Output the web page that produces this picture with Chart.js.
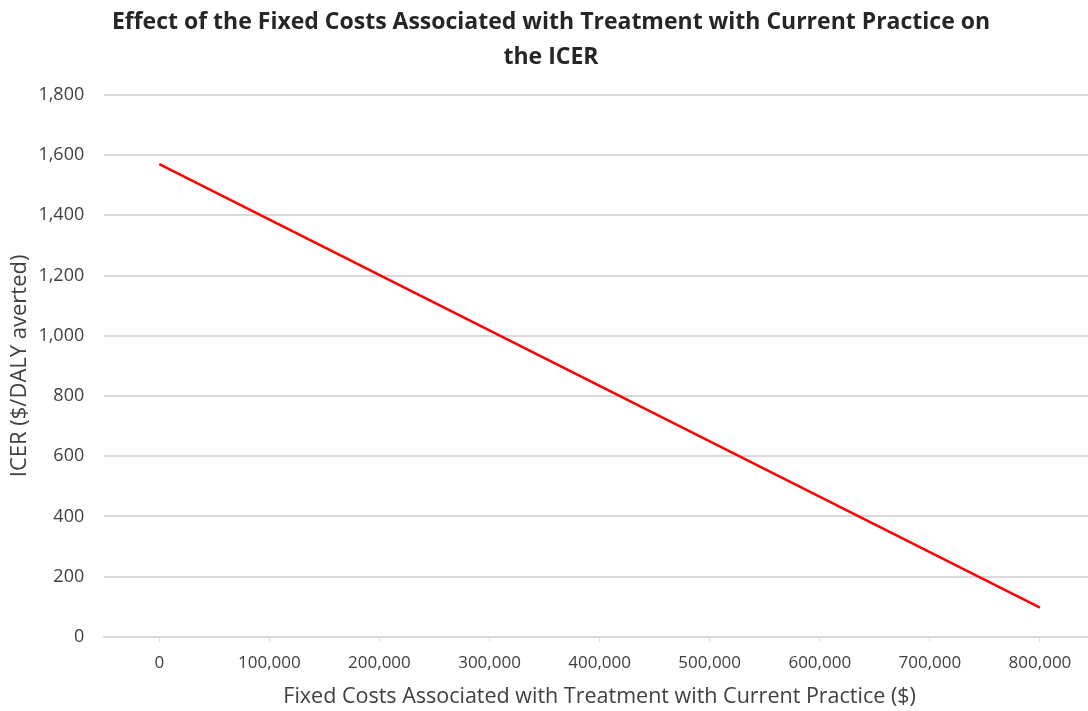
<!DOCTYPE html>
<html>
<head>
<meta charset="utf-8">
<script src="https://cdn.jsdelivr.net/npm/chart.js@4"></script>
<style>
  html, body { margin: 0; padding: 0; background: #fff; overflow: hidden; }
  #wrap { width: 1100px; height: 711px; }
</style>
</head>
<body>
<div id="wrap"><canvas id="icerChart"></canvas></div>
<script>
// 데이터
const fixedCosts = [0, 800000];
const icerValues = [1570, 97];
const xTicks = [0, 100000, 200000, 300000, 400000, 500000, 600000, 700000, 800000];
const yTicks = [0, 200, 400, 600, 800, 1000, 1200, 1400, 1600, 1800];

const titleLines = ["Effect of the Fixed Costs Associated with Treatment with Current Practice on", "the ICER"];
const xTitle = "Fixed Costs Associated with Treatment with Current Practice ($)";
const yTitle = "ICER ($/DALY averted)";

const points = fixedCosts.map((x, i) => ({ x: x, y: icerValues[i] }));
const fmt = v => v.toLocaleString("en-US");
const textColor = "#404040";

const ctx = document.getElementById("icerChart").getContext("2d");
new Chart(ctx, {
    type: "line",
    data: {
        datasets: [
            {
                data: points,
                borderColor: "#ff0000",
                borderWidth: 2.5,
                pointRadius: 0,
                fill: false,
            },
        ],
    },
    options: {
        responsive: true,
        maintainAspectRatio: false,
        animation: false,
        layout: { padding: { top: 4, right: 5, left: 7, bottom: 1 } },
        plugins: {
            legend: { display: false },
            tooltip: { enabled: false },
            title: {
                display: true,
                text: titleLines,
                color: "#262626",
                font: { family: "Open Sans", size: 23, weight: "bold", lineHeight: 1.52 },
                padding: { top: 1, bottom: 20 },
            },
        },
        scales: {
            x: {
                type: "linear",
                min: -50000,
                max: 850000,
                afterBuildTicks: axis => {
                    axis.ticks = xTicks.map(v => ({ value: v }));
                },
                grid: { drawOnChartArea: false, drawTicks: true, tickLength: 5, color: "#d9d9d9" },
                border: { color: "#d9d9d9", width: 1.5 },
                ticks: {
                    color: textColor,
                    font: { family: "Open Sans", size: 17 },
                    padding: 11,
                    maxRotation: 0,
                    callback: v => fmt(v),
                },
                title: {
                    display: true,
                    text: xTitle,
                    color: textColor,
                    font: { family: "Open Sans", size: 21.5 },
                    padding: { top: 0, bottom: 0 },
                },
            },
            y: {
                min: 0,
                max: 1800,
                afterBuildTicks: axis => {
                    axis.ticks = yTicks.map(v => ({ value: v }));
                },
                grid: { color: "#d9d9d9", lineWidth: 2, drawTicks: false },
                border: { display: false },
                ticks: {
                    color: textColor,
                    font: { family: "Open Sans", size: 18 },
                    padding: 20,
                    callback: v => fmt(v),
                },
                title: {
                    display: true,
                    text: yTitle,
                    color: textColor,
                    font: { family: "Open Sans", size: 22 },
                    padding: { top: 0, bottom: -15 },
                },
            },
        },
    },
});
</script>
</body>
</html>
